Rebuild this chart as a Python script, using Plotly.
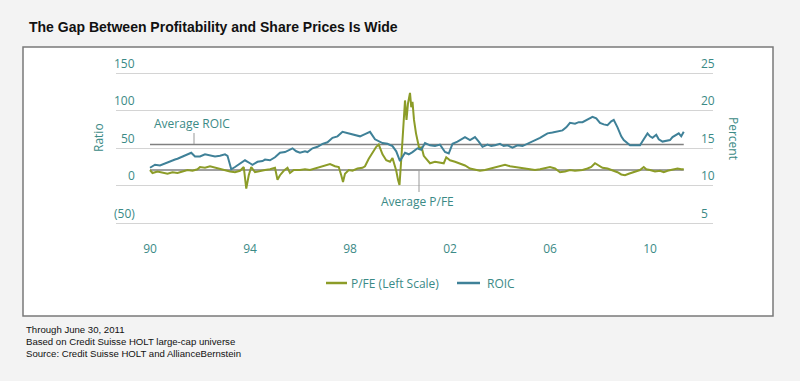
import plotly.graph_objects as go

# ---------------- data ----------------
ROIC_YEARS = [1990.0, 1990.2, 1990.4, 1990.6, 1990.8, 1991.0, 1991.1, 1991.3, 1991.5, 1991.65, 1991.8,
              1992.0, 1992.2, 1992.4, 1992.6, 1992.8, 1993.0, 1993.1, 1993.25, 1993.4, 1993.6, 1993.8,
              1994.0, 1994.1, 1994.3, 1994.5, 1994.6, 1994.8, 1995.0, 1995.2, 1995.4, 1995.6, 1995.7,
              1995.85, 1996.0, 1996.2, 1996.3, 1996.5, 1996.7, 1996.9, 1997.1, 1997.3, 1997.5, 1997.7,
              1997.9, 1998.1, 1998.25, 1998.4, 1998.6, 1998.8, 1999.0, 1999.15, 1999.3, 1999.5, 1999.7,
              1999.85, 2000.0, 2000.2, 2000.35, 2000.5, 2000.7, 2000.85, 2001.0, 2001.2, 2001.4, 2001.6,
              2001.8, 2001.95, 2002.1, 2002.3, 2002.45, 2002.6, 2002.8, 2003.0, 2003.15, 2003.3, 2003.5,
              2003.65, 2003.8, 2004.0, 2004.15, 2004.3, 2004.5, 2004.7, 2004.9, 2005.1, 2005.25, 2005.4,
              2005.6, 2005.75, 2005.9, 2006.1, 2006.3, 2006.5, 2006.65, 2006.8, 2007.0, 2007.15, 2007.3,
              2007.5, 2007.7, 2007.85, 2008.0, 2008.15, 2008.3, 2008.45, 2008.55, 2008.7, 2008.85, 2008.95,
              2009.1, 2009.2, 2009.4, 2009.6, 2009.75, 2009.9, 2010.0, 2010.1, 2010.25, 2010.35, 2010.5,
              2010.65, 2010.8, 2010.9, 2011.05, 2011.15, 2011.25, 2011.35]
ROIC_VALUES = [12.4, 12.8, 12.7, 13.0, 13.3, 13.5, 13.6, 13.9, 14.1, 14.4, 13.9,
               13.9, 14.2, 14.0, 13.9, 14.0, 14.2, 14.0, 12.2, 12.5, 13.0, 13.4,
               13.0, 12.8, 13.2, 13.3, 13.5, 13.4, 13.8, 14.4, 14.5, 14.8, 15.0,
               14.6, 14.4, 14.6, 14.5, 15.0, 15.2, 15.6, 15.8, 16.4, 16.6, 17.2,
               17.0, 16.9, 16.7, 16.6, 16.9, 17.2, 16.2, 16.0, 15.7, 15.6, 15.3,
               14.6, 13.3, 14.4, 14.2, 14.5, 15.0, 14.8, 15.7, 15.4, 15.3, 15.5,
               14.5, 14.3, 15.6, 15.9, 16.2, 16.5, 16.1, 16.5, 15.9, 15.2, 15.5,
               15.3, 15.4, 15.6, 15.3, 15.4, 15.1, 15.4, 15.3, 15.6, 15.8, 16.1,
               16.4, 16.7, 17.0, 17.1, 17.3, 17.4, 17.8, 18.4, 18.3, 18.5, 18.5,
               18.9, 19.2, 19.0, 18.4, 18.2, 18.1, 18.6, 18.8, 17.8, 16.6, 16.1,
               15.6, 15.4, 15.4, 15.4, 16.2, 17.0, 16.6, 16.4, 16.8, 16.2, 15.9,
               16.0, 16.1, 16.5, 16.8, 17.0, 16.6, 17.2]

PFE_YEARS = [1990.0, 1990.1, 1990.3, 1990.5, 1990.7, 1990.9, 1991.1, 1991.3, 1991.5, 1991.7, 1991.9,
             1992.0, 1992.2, 1992.4, 1992.6, 1992.8, 1993.0, 1993.2, 1993.4, 1993.6, 1993.75, 1993.85,
             1993.95, 1994.05, 1994.2, 1994.4, 1994.6, 1994.8, 1995.0, 1995.1, 1995.2, 1995.35, 1995.5,
             1995.6, 1995.75, 1996.0, 1996.2, 1996.4, 1996.6, 1996.8, 1997.0, 1997.2, 1997.4, 1997.55,
             1997.65, 1997.72, 1997.8, 1997.95, 1998.1, 1998.3, 1998.5, 1998.6, 1998.75, 1998.9, 1999.05,
             1999.15, 1999.3, 1999.45, 1999.6, 1999.7, 1999.85, 1999.92, 1999.98, 2000.06, 2000.12, 2000.2,
             2000.26, 2000.32, 2000.4, 2000.45, 2000.5, 2000.56, 2000.64, 2000.7, 2000.78, 2000.86, 2000.95,
             2001.05, 2001.2, 2001.4, 2001.6, 2001.75, 2001.85, 2002.0, 2002.2, 2002.4, 2002.6, 2002.8,
             2003.0, 2003.2, 2003.4, 2003.6, 2003.8, 2004.0, 2004.2, 2004.4, 2004.6, 2004.8, 2005.0,
             2005.2, 2005.4, 2005.6, 2005.8, 2006.0, 2006.2, 2006.4, 2006.6, 2006.8, 2007.0, 2007.3,
             2007.5, 2007.65, 2007.8, 2007.95, 2008.1, 2008.3, 2008.5, 2008.7, 2008.85, 2009.0, 2009.15,
             2009.3, 2009.45, 2009.6, 2009.75, 2009.85, 2010.0, 2010.2, 2010.4, 2010.55, 2010.7, 2010.85,
             2011.0, 2011.1, 2011.25, 2011.35]
PFE_VALUES = [21, 17, 19, 17, 16, 18, 17, 19, 21, 20, 22,
              25, 24, 26, 24, 22, 20, 19, 18, 20, 25, -4,
              14, 25, 18, 20, 21, 22, 24, 8, 14, 20, 24,
              17, 21, 21, 22, 21, 23, 25, 27, 29, 26, 25,
              14, 5, 16, 21, 20, 23, 24, 26, 36, 45, 52,
              55, 42, 34, 32, 37, 20, 8, 1, 40, 75, 114,
              88, 110, 124, 105, 112, 88, 70, 58, 48, 52, 40,
              36, 30, 32, 31, 30, 38, 34, 32, 30, 27, 23,
              21, 20, 21, 23, 25, 26, 28, 26, 25, 24, 23,
              22, 21, 22, 23, 25, 23, 18, 19, 21, 20, 21,
              23, 25, 30, 27, 24, 23, 21, 18, 15, 14, 16,
              18, 20, 21, 25, 22, 21, 19, 20, 18, 20, 21,
              22, 23, 22, 22]

AVG_ROIC = 15.5      # percent
AVG_PFE = 21         # ratio
AVG_START, AVG_END = 1990.0, 2011.35
ROIC_MARK_YEAR = 1991.76
PFE_MARK_YEAR = 2000.76

LEFT_TICKS = [-50, 0, 50, 100, 150]
LEFT_TEXT = ["(50)", "0", "50", "100", "150"]
RIGHT_TICKS = [5, 10, 15, 20, 25]
RIGHT_TEXT = ["5", "10", "15", "20", "25"]
X_TICKS = [1990, 1994, 1998, 2002, 2006, 2010]
X_TEXT = ["90", "94", "98", "02", "06", "10"]

TITLE = "The Gap Between Profitability and Share Prices Is Wide"
NOTES = ["Through June 30, 2011",
         "Based on Credit Suisse HOLT large-cap universe",
         "Source: Credit Suisse HOLT and AllianceBernstein"]

# ---------------- styling ----------------
GREEN = "#8c9c28"
BLUE = "#3f8198"
TEAL = "#3b8a86"
FONT = "Open Sans"
W, H = 800, 381
PL, PR, PT, PB = 116, 713, 70, 240

YMIN, YMAX = -72.6, 154.7
Y2MIN, Y2MAX = 10 + YMIN / 10, 10 + YMAX / 10
XMIN = 1990 + (PL - 150) / 25
XMAX = 1990 + (PR - 150) / 25


def px(x):
    return (x - PL) / (PR - PL)


def py(y):
    return (PB - y) / (PB - PT)


fig = go.Figure()
fig.add_trace(go.Scatter(x=PFE_YEARS, y=PFE_VALUES, mode="lines", name="P/FE (Left Scale)",
                         line=dict(color=GREEN, width=2), yaxis="y"))
fig.add_trace(go.Scatter(x=ROIC_YEARS, y=ROIC_VALUES, mode="lines", name="ROIC",
                         line=dict(color=BLUE, width=2), yaxis="y2"))

shapes = [
    dict(type="rect", xref="paper", yref="paper", x0=px(23), x1=px(773), y0=py(316), y1=py(47),
         fillcolor="white", line=dict(color="#7a7a7a", width=1.5), layer="below"),
    dict(type="line", xref="x", yref="y2", x0=AVG_START, x1=AVG_END, y0=AVG_ROIC, y1=AVG_ROIC,
         line=dict(color="#808080", width=1.5), layer="below"),
    dict(type="line", xref="x", yref="y", x0=AVG_START, x1=AVG_END, y0=AVG_PFE, y1=AVG_PFE,
         line=dict(color="#808080", width=1.5), layer="below"),
    dict(type="line", xref="x", yref="paper", x0=ROIC_MARK_YEAR, x1=ROIC_MARK_YEAR,
         y0=py(144), y1=py(133), line=dict(color="#999999", width=1)),
    dict(type="line", xref="x", yref="paper", x0=PFE_MARK_YEAR, x1=PFE_MARK_YEAR,
         y0=py(192), y1=py(170), line=dict(color="#999999", width=1)),
    dict(type="line", xref="paper", yref="paper", x0=px(326), x1=px(347), y0=py(283), y1=py(283),
         line=dict(color=GREEN, width=2.5)),
    dict(type="line", xref="paper", yref="paper", x0=px(457), x1=px(480), y0=py(283), y1=py(283),
         line=dict(color=BLUE, width=2.5)),
]

tf = dict(family=FONT, size=12, color=TEAL)
ann = []
for v, t in zip(LEFT_TICKS, LEFT_TEXT):
    ann.append(dict(xref="paper", yref="y", x=px(137), y=v, text=t, showarrow=False,
                    xanchor="right", yanchor="middle", yshift=10, font=tf))
for v, t in zip(RIGHT_TICKS, RIGHT_TEXT):
    ann.append(dict(xref="paper", yref="y2", x=px(699), y=v, text=t, showarrow=False,
                    xanchor="left", yanchor="middle", yshift=10, font=tf))
ann += [
    dict(xref="paper", yref="paper", x=px(98), y=py(138), text="Ratio", textangle=-90,
         showarrow=False, xanchor="center", yanchor="middle", font=tf),
    dict(xref="paper", yref="paper", x=px(734), y=py(138), text="Percent", textangle=90,
         showarrow=False, xanchor="center", yanchor="middle", font=tf),
    dict(xref="paper", yref="paper", x=px(152), y=py(123), text="Average ROIC",
         showarrow=False, xanchor="left", yanchor="middle", font=tf),
    dict(xref="paper", yref="paper", x=px(379), y=py(201), text="Average P/FE",
         showarrow=False, xanchor="left", yanchor="middle", font=tf),
    dict(xref="paper", yref="paper", x=px(349), y=py(283), text="P/FE (Left Scale)",
         showarrow=False, xanchor="left", yanchor="middle", font=tf),
    dict(xref="paper", yref="paper", x=px(485), y=py(283), text="ROIC",
         showarrow=False, xanchor="left", yanchor="middle", font=tf),
    dict(xref="paper", yref="paper", x=px(27), y=py(27), text="<b>" + TITLE + "</b>",
         showarrow=False, xanchor="left", yanchor="middle",
         font=dict(family="Liberation Sans, Arial", size=14, color="#111111")),
]
for i, n in enumerate(NOTES):
    ann.append(dict(xref="paper", yref="paper", x=px(24), y=py(329 + 12 * i), text=n,
                    showarrow=False, xanchor="left", yanchor="middle",
                    font=dict(family="Liberation Sans Narrow, Liberation Sans, Arial", size=9.6,
                              color="#111111")))

fig.update_layout(
    width=W, height=H,
    margin=dict(l=PL, r=W - PR, t=PT, b=H - PB, pad=0),
    paper_bgcolor="#f3f3f3", plot_bgcolor="rgba(0,0,0,0)",
    showlegend=False,
    shapes=shapes, annotations=ann,
    xaxis=dict(range=[XMIN, XMAX], showgrid=False, zeroline=False, showline=False,
               tickvals=X_TICKS, ticktext=X_TEXT, ticks="", tickfont=tf),
    yaxis=dict(range=[YMIN, YMAX], tickvals=LEFT_TICKS, showticklabels=False,
               showgrid=True, gridcolor="#d4d4d4", gridwidth=1, zeroline=False, showline=False),
    yaxis2=dict(range=[Y2MIN, Y2MAX], overlaying="y", side="right", showgrid=False,
                showticklabels=False, zeroline=False, showline=False),
)

fig.write_html("out.html", config={"displayModeBar": False},
               post_script="document.body.style.margin='0';")
